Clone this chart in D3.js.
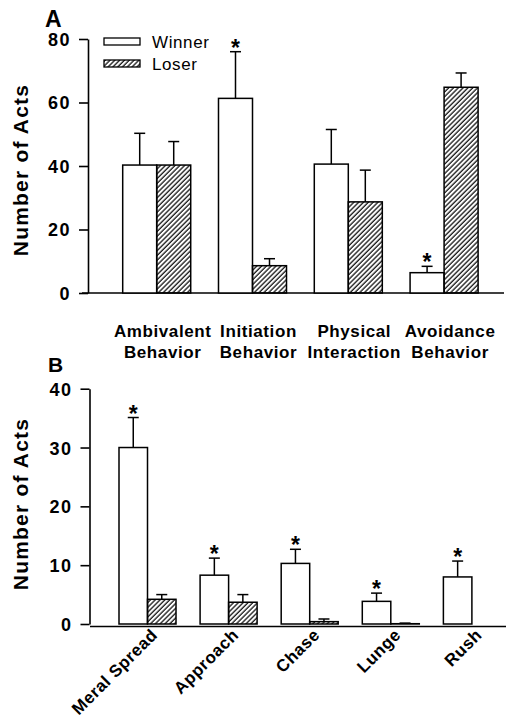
<!DOCTYPE html>
<html>
<head>
<meta charset="utf-8">
<script src="https://cdn.jsdelivr.net/npm/d3@7"></script>
<style>
  body { margin: 0; background: #fff; }
  svg { display: block; font-family: "Liberation Sans", Arial, sans-serif; }
</style>
</head>
<body>
<div id="chart"></div>
<script>
// Panel A data
var catsA = [["Ambivalent", "Behavior"], ["Initiation", "Behavior"], ["Physical", "Interaction"], ["Avoidance", "Behavior"]];
var winnerA = [40.3, 61.3, 40.6, 6.4];
var winnerErrA = [10.0, 14.7, 10.9, 2.0];
var loserA = [40.3, 8.6, 28.7, 64.8];
var loserErrA = [7.4, 2.2, 10.0, 4.5];
var sigA = [false, true, false, true];
var ticksA = [0, 20, 40, 60, 80];

// Panel B data
var catsB = ["Meral Spread", "Approach", "Chase", "Lunge", "Rush"];
var winnerB = [30.0, 8.3, 10.3, 3.85, 8.0];
var winnerErrB = [5.1, 2.9, 2.4, 1.4, 2.7];
var loserB = [4.2, 3.7, 0.4, 0.05, 0];
var loserErrB = [0.8, 1.3, 0.45, 0.1, 0];
var sigB = [true, true, true, true, true];
var ticksB = [0, 10, 20, 30, 40];

var groups = ["Winner", "Loser"];

var svg = d3.select("#chart")
    .append("svg")
        .attr("width", 506)
        .attr("height", 722);

// hatch pattern
svg.append("defs").append("pattern")
    .attr("id", "hatch")
    .attr("patternUnits", "userSpaceOnUse")
    .attr("width", 3.4)
    .attr("height", 10)
    .attr("patternTransform", "rotate(45)")
  .append("line")
    .attr("x1", 1).attr("y1", 0)
    .attr("x2", 1).attr("y2", 10)
    .attr("stroke", "#000")
    .attr("stroke-width", 1.2);

function drawPanel(opt) {
    var cats = opt.cats;
    var rows = cats.map(function(c, i) {
        return {cat: i, vals: [
            {g: "Winner", v: opt.winner[i], e: opt.winnerErr[i], sig: opt.sig[i]},
            {g: "Loser", v: opt.loser[i], e: opt.loserErr[i], sig: false}
        ]};
    });

    var y = d3.scaleLinear().domain(opt.yDomain).range(opt.yRange);
    var x0 = d3.scaleBand()
        .domain(d3.range(cats.length))
        .range(opt.xRange)
        .paddingInner(opt.pad)
        .paddingOuter(0);
    var x1 = d3.scaleBand().domain(groups).range([0, x0.bandwidth()]);

    // y axis
    var yAxis = svg.append("g")
        .attr("transform", "translate(" + opt.axisX + ",0)")
        .call(d3.axisLeft(y).tickValues(opt.ticks).tickSize(9).tickSizeOuter(0).tickPadding(8));
    yAxis.select(".domain").attr("stroke-width", 1.6);
    yAxis.selectAll(".tick line").attr("stroke-width", 1.6);
    yAxis.selectAll(".tick text")
        .attr("font-size", "18px")
        .attr("font-weight", "bold")
        .attr("fill", "#000")
        .style("letter-spacing", "1.5px")
        .attr("dx", "0px")
        .attr("dy", "0.36em");

    // x baseline
    svg.append("line")
        .attr("x1", opt.baseX[0]).attr("x2", opt.baseX[1])
        .attr("y1", y(0) + opt.baseOff).attr("y2", y(0) + opt.baseOff)
        .attr("stroke", "#000")
        .attr("stroke-width", 1.6);

    // y title
    svg.append("text")
        .attr("transform", "translate(28," + opt.titleY + ") rotate(-90)")
        .attr("text-anchor", "middle")
        .attr("font-size", "21px")
        .attr("font-weight", "bold")
        .style("letter-spacing", "1.2px")
        .text("Number of Acts");

    // panel letter
    svg.append("text")
        .attr("x", opt.letterX).attr("y", opt.letterY)
        .attr("font-size", opt.letterSize)
        .attr("font-weight", "bold")
        .text(opt.letter);

    var grp = svg.selectAll(".grp" + opt.letter)
        .data(rows)
        .enter().append("g")
        .attr("transform", function(d) { return "translate(" + x0(d.cat) + ",0)"; });

    var bar = grp.selectAll("g")
        .data(function(d) { return d.vals; })
        .enter().append("g");

    // error bars (upward only)
    bar.filter(function(d) { return d.e > 0; })
        .append("line")
        .attr("x1", function(d) { return x1(d.g) + x1.bandwidth() / 2; })
        .attr("x2", function(d) { return x1(d.g) + x1.bandwidth() / 2; })
        .attr("y1", function(d) { return y(d.v); })
        .attr("y2", function(d) { return y(d.v + d.e); })
        .attr("stroke", "#000").attr("stroke-width", 1.5);
    bar.filter(function(d) { return d.e > 0; })
        .append("line")
        .attr("x1", function(d) { return x1(d.g) + x1.bandwidth() / 2 - 5.5; })
        .attr("x2", function(d) { return x1(d.g) + x1.bandwidth() / 2 + 5.5; })
        .attr("y1", function(d) { return y(d.v + d.e); })
        .attr("y2", function(d) { return y(d.v + d.e); })
        .attr("stroke", "#000").attr("stroke-width", 1.5);

    bar.append("rect")
        .attr("x", function(d) { return x1(d.g); })
        .attr("y", function(d) { return y(d.v); })
        .attr("width", x1.bandwidth())
        .attr("height", function(d) { return y(0) - y(d.v); })
        .attr("fill", function(d) { return d.g == "Winner" ? "#fff" : "url(#hatch)"; })
        .attr("stroke", "#000")
        .attr("stroke-width", 1.5);

    // significance stars
    bar.filter(function(d) { return d.sig; })
        .append("text")
        .attr("x", function(d) { return x1(d.g) + x1.bandwidth() / 2; })
        .attr("y", function(d) { return y(d.v + d.e) + 4; })
        .attr("text-anchor", "middle")
        .attr("font-size", "23px")
        .attr("font-weight", "bold")
        .text("*");

    return {x0: x0, y: y};
}

// Panel A
var A = drawPanel({
    letter: "A", letterX: 45, letterY: 27, letterSize: "23px",
    cats: catsA, winner: winnerA, winnerErr: winnerErrA, loser: loserA, loserErr: loserErrA, sig: sigA,
    yDomain: [0, 80], yRange: [293, 39], ticks: ticksA,
    xRange: [122.7, 478.1], pad: 0.29,
    axisX: 88, baseX: [82, 504], baseOff: 0, titleY: 170
});

var catLabels = svg.selectAll(".catA")
    .data(catsA)
    .enter().append("text")
    .attr("x", function(d, i) { return A.x0(i) + A.x0.bandwidth() / 2 + 6; })
    .attr("y", 337)
    .attr("text-anchor", "middle")
    .attr("font-size", "17px")
    .attr("font-weight", "bold")
    .style("letter-spacing", "0.6px");
catLabels.append("tspan")
    .attr("x", function(d, i) { return A.x0(i) + A.x0.bandwidth() / 2 + 6; })
    .text(function(d) { return d[0]; });
catLabels.append("tspan")
    .attr("x", function(d, i) { return A.x0(i) + A.x0.bandwidth() / 2 + 6; })
    .attr("dy", 21)
    .text(function(d) { return d[1]; });

// legend
var legend = svg.selectAll(".legend")
    .data(groups)
    .enter().append("g")
    .attr("transform", function(d, i) { return "translate(104," + (38 + i * 22) + ")"; });
legend.append("rect")
    .attr("width", 36).attr("height", 7)
    .attr("fill", function(d) { return d == "Winner" ? "#fff" : "url(#hatch)"; })
    .attr("stroke", "#000").attr("stroke-width", 1.3);
legend.append("text")
    .attr("x", 48).attr("y", 10)
    .attr("font-size", "17px")
    .style("letter-spacing", "0.6px")
    .text(function(d) { return d; });

// Panel B
var B = drawPanel({
    letter: "B", letterX: 48, letterY: 372, letterSize: "21px",
    cats: catsB, winner: winnerB, winnerErr: winnerErrB, loser: loserB, loserErr: loserErrB, sig: sigB,
    yDomain: [0, 40], yRange: [624, 388.7], ticks: ticksB,
    xRange: [119, 500.4], pad: 0.297,
    axisX: 89.5, baseX: [90, 506], baseOff: 2.5, titleY: 504
});

svg.selectAll(".catB")
    .data(catsB)
    .enter().append("text")
    .attr("transform", function(d, i) {
        return "translate(" + (B.x0(i) + B.x0.bandwidth() / 2 + 11) + ",636) rotate(-45)";
    })
    .attr("text-anchor", "end")
    .attr("font-size", "17px")
    .attr("font-weight", "bold")
    .style("letter-spacing", "0.5px")
    .text(function(d) { return d; });
</script>
</body>
</html>
